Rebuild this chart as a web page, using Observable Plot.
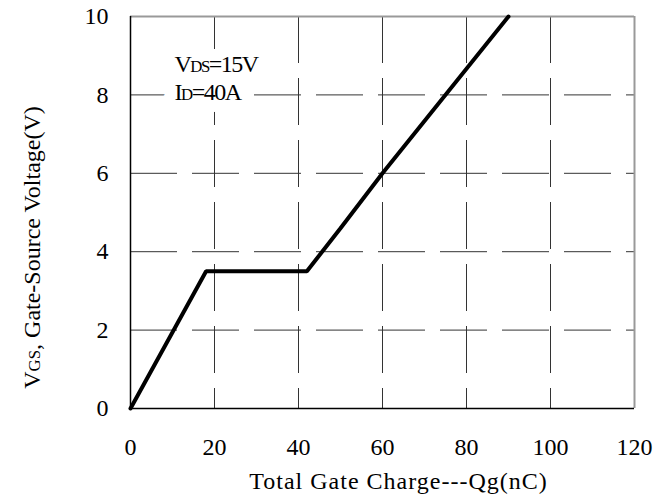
<!DOCTYPE html>
<html><head><meta charset="utf-8">
<script src="https://cdn.jsdelivr.net/npm/d3@7"></script>
<script src="https://cdn.jsdelivr.net/npm/@observablehq/plot@0.6"></script>
<style>body{margin:0;background:#fff} svg{display:block}</style>
</head><body><div id="chart"></div>
<script>
const charge = [0, 18, 42, 50, 60, 90];
const voltage = [0, 3.5, 3.5, 4.6, 6, 10];
const xTicks = [0, 20, 40, 60, 80, 100, 120];
const yTicks = [0, 2, 4, 6, 8, 10];
const xGrid = [20, 40, 60, 80, 100];
const yGrid = [2, 4, 6, 8];
const conditions = ["VDS=15V", "ID=40A"];
const xLabel = "Total Gate Charge---Qg(nC)";
const yLabel = "VGS, Gate-Source Voltage(V)";
const subscriptSpans = {"VDS=15V": [1, 3], "ID=40A": [1, 2], "VGS, Gate-Source Voltage(V)": [1, 3]};

const curve = charge.map((q, i) => ({q, v: voltage[i]}));
const font = "Liberation Serif";
const condStyle = {frameAnchor: "top-left", dx: 44, textAnchor: "start", lineAnchor: "bottom", fontSize: 24};

const plot = Plot.plot({
  width: 664, height: 495,
  marginLeft: 130, marginRight: 30, marginTop: 16, marginBottom: 87,
  style: {fontFamily: font, fontSize: "24px", color: "#000", background: "#fff"},
  x: {domain: [0, 120], label: null},
  y: {domain: [0, 10], label: null},
  marks: [
    Plot.ruleX(xGrid, {y1: 10, y2: 0, stroke: "#333", strokeWidth: 1, strokeDasharray: "47,15"}),
    Plot.ruleY(yGrid, {x1: 0, x2: 120, stroke: "#333", strokeWidth: 1, strokeDasharray: "47,15"}),
    Plot.ruleY([10], {stroke: "#999", strokeWidth: 2}),
    Plot.ruleX([120], {stroke: "#999", strokeWidth: 2}),
    Plot.ruleY([0], {stroke: "#000", strokeWidth: 1.5}),
    Plot.ruleX([0], {stroke: "#000", strokeWidth: 1.5}),
    Plot.axisX(xTicks, {tickSize: 0, tickPadding: 29, fontSize: 24, label: null}),
    Plot.axisY(yTicks, {tickSize: 0, tickPadding: 22, fontSize: 24, label: null}),
    Plot.line(curve, {x: "q", y: "v", stroke: "#000", strokeWidth: 4, strokeLinejoin: "miter"}),
    Plot.text([conditions[0]], {...condStyle, dy: 55, fill: "white", stroke: "white", strokeWidth: 24}),
    Plot.text([conditions[1]], {...condStyle, dy: 83, fill: "white", stroke: "white", strokeWidth: 24}),
    Plot.text([conditions[0]], {...condStyle, dy: 55, fill: "#000"}),
    Plot.text([conditions[1]], {...condStyle, dy: 83, fill: "#000"}),
    Plot.text([xLabel], {frameAnchor: "bottom", dx: 16, dy: 80, textAnchor: "middle", lineAnchor: "bottom", fontSize: 24, fill: "#000"}),
    Plot.text([yLabel], {frameAnchor: "left", rotate: -90, dx: -98, dy: 35, textAnchor: "middle", lineAnchor: "middle", fontSize: 24, fill: "#000"})
  ]
});

plot.querySelectorAll("text").forEach(t => {
  const s = t.textContent;
  if (s === xLabel) t.style.letterSpacing = "1px";
  if (conditions.includes(s)) t.style.letterSpacing = "-1.5px";
  const span = subscriptSpans[s];
  if (!span) return;
  const [a, b] = span;
  t.textContent = "";
  const parts = [[s.slice(0, a), null], [s.slice(a, b), "0.7em"], [s.slice(b), null]];
  for (const [str, size] of parts) {
    const ts = document.createElementNS("http://www.w3.org/2000/svg", "tspan");
    ts.textContent = str;
    if (size) ts.setAttribute("font-size", size);
    t.appendChild(ts);
  }
});

document.getElementById("chart").appendChild(plot);
</script>
</body></html>
